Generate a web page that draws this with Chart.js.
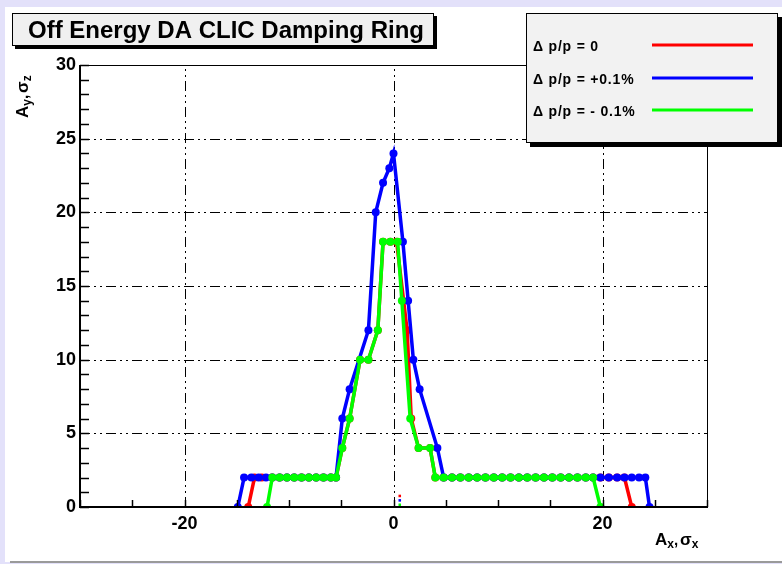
<!DOCTYPE html>
<html>
<head>
<meta charset="utf-8">
<script src="https://cdn.jsdelivr.net/npm/chart.js@4"></script>
<style>
  body { margin: 0; background: #e3e1fa; }
  canvas { display: block; }
</style>
</head>
<body>
<canvas id="daChart" width="782" height="564"></canvas>
<script>
// --- chart data ---
const chartTitle = 'Off Energy DA CLIC Damping Ring';
const seriesLabels = ['Δ p/p = 0', 'Δ p/p = +0.1%', 'Δ p/p = - 0.1%'];
const seriesColors = ['#ff0000', '#0000ff', '#00ff00'];
const xLabelValues = [-20, 0, 20];
const yLabelValues = [0, 5, 10, 15, 20, 25, 30];

// dp/p = 0
const redX = [-13.9, -13.3, -12.6, -11.6, -10.9, -10.2, -9.5, -8.8, -8.1, -7.4, -6.7, -6.0, -5.5,
  -4.9, -4.2, -3.2, -2.4, -1.5, -1.0, -0.3, 0.3, 1.3, 1.7, 2.4, 3.5, 4.0,
  4.8, 5.6, 6.4, 7.2, 8.0, 8.8, 9.6, 10.4, 11.2, 12.0, 12.8, 13.6, 14.4, 15.2, 16.0, 16.8, 17.6, 18.4, 19.1,
  19.8, 20.6, 21.4, 22.1, 22.8];
const redY = [0, 2, 2, 2, 2, 2, 2, 2, 2, 2, 2, 2, 2,
  4, 6, 10, 10, 12, 18, 18, 18, 12, 6, 4, 4, 2,
  2, 2, 2, 2, 2, 2, 2, 2, 2, 2, 2, 2, 2, 2, 2, 2, 2, 2, 2,
  2, 2, 2, 2, 0];

// dp/p = +0.1%
const blueX = [-14.9, -14.3, -13.6, -12.9, -12.2, -11.6, -10.9, -10.2, -9.5, -8.8, -8.1, -7.4, -6.7, -6.0, -5.5,
  -4.9, -4.2, -2.4, -1.7, -1.0, -0.4, 0.0, 0.9, 1.4, 1.9, 2.5, 4.2, 4.8,
  5.6, 6.4, 7.2, 8.0, 8.8, 9.6, 10.4, 11.2, 12.0, 12.8, 13.6, 14.4, 15.2, 16.0, 16.8, 17.6, 18.4, 19.1,
  19.8, 20.6, 21.4, 22.1, 22.8, 23.5, 24.1, 24.5];
const blueY = [0, 2, 2, 2, 2, 2, 2, 2, 2, 2, 2, 2, 2, 2, 2,
  6, 8, 12, 20, 22, 23, 24, 18, 14, 10, 8, 4, 2,
  2, 2, 2, 2, 2, 2, 2, 2, 2, 2, 2, 2, 2, 2, 2, 2, 2, 2,
  2, 2, 2, 2, 2, 2, 2, 0];

// dp/p = -0.1%
const greenX = [-12.1, -11.6, -10.9, -10.2, -9.5, -8.8, -8.1, -7.4, -6.7, -6.0, -5.5,
  -4.9, -4.2, -3.2, -2.4, -1.5, -1.0, -0.3, 0.4, 0.8, 1.6, 2.4, 3.5, 4.0,
  4.8, 5.6, 6.4, 7.2, 8.0, 8.8, 9.6, 10.4, 11.2, 12.0, 12.8, 13.6, 14.4, 15.2, 16.0, 16.8, 17.6, 18.4, 19.1, 19.8];
const greenY = [0, 2, 2, 2, 2, 2, 2, 2, 2, 2, 2,
  4, 6, 10, 10, 12, 18, 18, 18, 14, 6, 4, 4, 2,
  2, 2, 2, 2, 2, 2, 2, 2, 2, 2, 2, 2, 2, 2, 2, 2, 2, 2, 2, 0];

// the little stacked marks just above the x axis near x = 0.6
const stubX = [0.6, 0.6, 0.6];
const stubY = [0.75, 0.45, 0.15];

const toPts = (xs, ys) => xs.map((x, i) => ({ x: x, y: ys[i] }));

const FONT = "'Liberation Sans', Arial, sans-serif";
const GRID_DASH = [10, 4, 2, 4, 2, 4];

// page background, boxes, grid, frame, ticks, title, legend and axis titles
const rootStyle = {
  id: 'rootStyle',
  beforeDraw(chart) {
    const ctx = chart.ctx;
    ctx.save();
    ctx.fillStyle = '#ffffff';
    ctx.fillRect(5, 7, 777, 555);
    ctx.fillStyle = '#9a9a9a';
    ctx.fillRect(10, 561, 772, 2);
    ctx.restore();
  },
  beforeDatasetsDraw(chart) {
    const { ctx, chartArea: a, scales: { x, y } } = chart;
    ctx.save();
    ctx.strokeStyle = '#000';
    ctx.lineWidth = 1;
    ctx.setLineDash(GRID_DASH);
    x.ticks.forEach(t => {
      if (t.value % 20 !== 0 || Math.abs(t.value) === 30) return;
      const px = Math.round(x.getPixelForValue(t.value)) + 0.5;
      ctx.beginPath(); ctx.moveTo(px, a.bottom); ctx.lineTo(px, a.top); ctx.stroke();
    });
    y.ticks.forEach(t => {
      if (t.value % 5 !== 0 || t.value === 0 || t.value === 30) return;
      const py = Math.round(y.getPixelForValue(t.value)) + 0.5;
      ctx.beginPath(); ctx.moveTo(a.left, py); ctx.lineTo(a.right, py); ctx.stroke();
    });
    ctx.restore();
  },
  afterDraw(chart) {
    const { ctx, chartArea: a, scales: { x, y } } = chart;
    ctx.save();
    // frame
    ctx.strokeStyle = '#000';
    ctx.lineWidth = 1;
    ctx.strokeRect(a.left + 0.5, a.top + 0.5, a.right - a.left, a.bottom - a.top);
    ctx.lineWidth = 2;
    ctx.beginPath();
    ctx.moveTo(a.left, a.top); ctx.lineTo(a.left, a.bottom); ctx.lineTo(a.right, a.bottom);
    ctx.stroke();
    // inner tick marks
    ctx.lineWidth = 1.5;
    x.ticks.forEach(t => {
      const px = Math.round(x.getPixelForValue(t.value)) + 0.5;
      ctx.beginPath(); ctx.moveTo(px, a.bottom); ctx.lineTo(px, a.bottom - 7); ctx.stroke();
    });
    y.ticks.forEach(t => {
      const py = Math.round(y.getPixelForValue(t.value)) + 0.5;
      ctx.beginPath(); ctx.moveTo(a.left, py); ctx.lineTo(a.left + 9, py); ctx.stroke();
    });

    // title box with shadow
    ctx.fillStyle = '#000';
    ctx.fillRect(15, 16, 422, 33);
    ctx.fillStyle = '#f0f0f0';
    ctx.fillRect(12, 13, 422, 33);
    ctx.lineWidth = 1;
    ctx.strokeRect(12.5, 13.5, 421, 32);
    ctx.fillStyle = '#000';
    ctx.font = 'bold 24px ' + FONT;
    ctx.textBaseline = 'alphabetic';
    ctx.fillText(chartTitle, 28, 38);

    // legend box with shadow
    ctx.fillStyle = '#000';
    ctx.fillRect(530, 17, 252, 130);
    ctx.fillStyle = '#f2f2f2';
    ctx.fillRect(526, 13, 252, 130);
    ctx.strokeRect(526.5, 13.5, 251, 129);
    const rowY = [45, 78, 110];
    chart.data.datasets.slice(0, 3).forEach((ds, i) => {
      ctx.fillStyle = '#000';
      ctx.font = 'bold 14px ' + FONT;
      ctx.letterSpacing = '0.8px';
      ctx.textBaseline = 'middle';
      ctx.fillText(ds.label, 533, rowY[i] + 2);
      ctx.letterSpacing = '0px';
      ctx.strokeStyle = ds.borderColor;
      ctx.lineWidth = 3;
      ctx.beginPath(); ctx.moveTo(652, rowY[i]); ctx.lineTo(753, rowY[i]); ctx.stroke();
    });

    // axis titles with subscripts
    ctx.fillStyle = '#000';
    ctx.textBaseline = 'alphabetic';
    const rich = (parts, x0, y0) => {
      let cx = x0;
      parts.forEach(p => {
        ctx.font = p.f;
        ctx.fillText(p.t, cx, y0 + (p.dy || 0));
        cx += ctx.measureText(p.t).width + (p.gap || 0);
      });
    };
    rich([
      { t: 'A', f: 'bold 17px ' + FONT },
      { t: 'x', f: 'bold 12px ' + FONT, dy: 3 },
      { t: ',', f: 'bold 15px ' + FONT, gap: 2 },
      { t: 'σ', f: 'bold 17px ' + FONT },
      { t: 'x', f: 'bold 12px ' + FONT, dy: 3 }
    ], 655, 545);
    ctx.translate(28, 118);
    ctx.rotate(-Math.PI / 2);
    rich([
      { t: 'A', f: 'bold 17px ' + FONT },
      { t: 'y', f: 'bold 12px ' + FONT, dy: 3 },
      { t: ',', f: 'bold 15px ' + FONT, gap: 2 },
      { t: 'σ', f: 'bold 17px ' + FONT },
      { t: 'z', f: 'bold 12px ' + FONT, dy: 3 }
    ], 0, 0);
    ctx.restore();
  }
};

const lineSet = (label, color, xs, ys, order) => ({
  label: label,
  data: toPts(xs, ys),
  borderColor: color,
  backgroundColor: color,
  borderWidth: 3.5,
  pointRadius: 4,
  pointHoverRadius: 4,
  pointBorderWidth: 0,
  showLine: true,
  tension: 0,
  order: order
});

new Chart(document.getElementById('daChart').getContext('2d'), {
  type: 'scatter',
  data: {
    datasets: [
      lineSet(seriesLabels[0], seriesColors[0], redX, redY, 2),
      lineSet(seriesLabels[1], seriesColors[1], blueX, blueY, 1),
      lineSet(seriesLabels[2], seriesColors[2], greenX, greenY, 0),
      {
        label: 'marks',
        data: toPts(stubX, stubY),
        pointStyle: 'rect',
        pointRadius: 1.8,
        pointBorderWidth: 0,
        backgroundColor: seriesColors,
        showLine: false,
        order: 3
      }
    ]
  },
  options: {
    responsive: false,
    animation: false,
    layout: { padding: { left: 0, right: 75, top: 65, bottom: 0 } },
    plugins: { legend: { display: false }, tooltip: { enabled: false }, title: { display: false } },
    scales: {
      x: {
        type: 'linear',
        min: -30, max: 30,
        afterFit: s => { s.height = 57; },
        grid: { display: false, drawTicks: false },
        border: { display: false },
        ticks: {
          stepSize: 5,
          autoSkip: false,
          maxRotation: 0,
          padding: 6,
          color: '#000',
          font: { family: FONT, weight: 'bold', size: 18 },
          callback: v => xLabelValues.includes(v) ? String(v) : ''
        }
      },
      y: {
        type: 'linear',
        min: 0, max: 30,
        afterFit: s => { s.width = 80; },
        grid: { display: false, drawTicks: false },
        border: { display: false },
        ticks: {
          stepSize: 1,
          autoSkip: false,
          padding: 4,
          color: '#000',
          font: { family: FONT, weight: 'bold', size: 18 },
          callback: v => yLabelValues.includes(v) ? String(v) : ''
        }
      }
    }
  },
  plugins: [rootStyle]
});
</script>
</body>
</html>
